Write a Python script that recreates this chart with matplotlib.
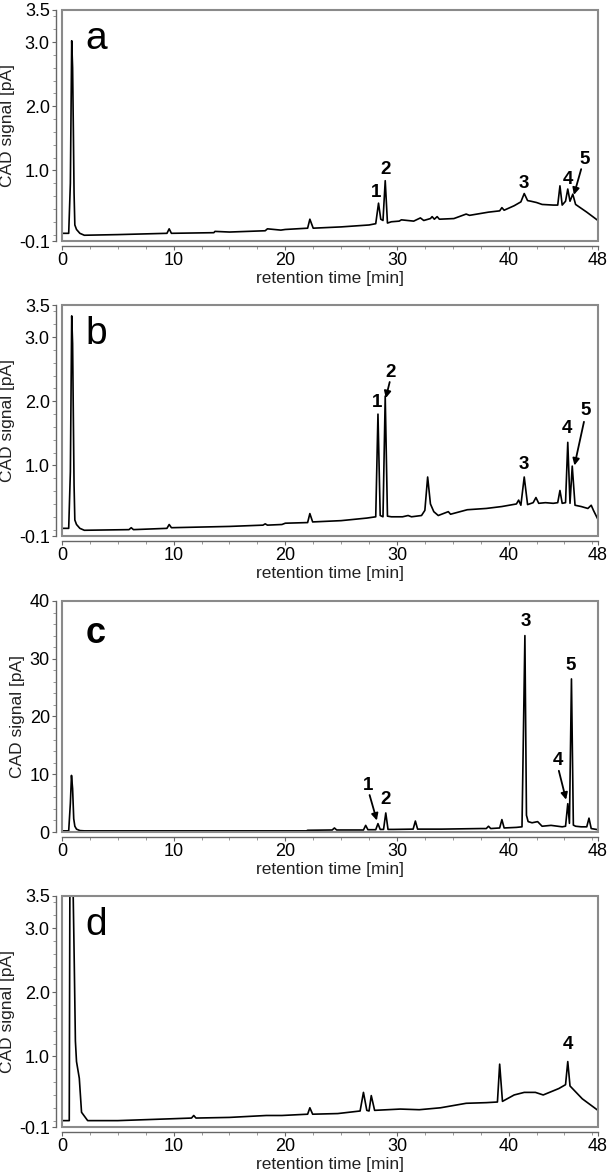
import matplotlib
matplotlib.use("Agg")
import matplotlib.pyplot as plt
from matplotlib.patches import Rectangle
from matplotlib.ticker import MultipleLocator

plt.rcParams["font.family"] = ["Liberation Sans", "DejaVu Sans"]

# chromatogram a
t_a = [0.0, 0.6, 0.75, 0.87, 0.95, 1.02, 1.08, 1.15, 1.3, 1.6, 2.0, 5.0, 9.4, 9.6, 9.8,
       13.6, 13.7, 15.0, 18.2, 18.4, 19.6, 20.0, 22.0, 22.2, 22.5, 25.0, 27.5, 28.1, 28.35,
       28.55, 28.75, 28.95, 29.15, 29.5, 30.2, 30.4, 31.5, 32.1, 32.4, 33.0, 33.15, 33.35,
       33.6, 33.8, 35.1, 36.2, 36.5, 38.2, 39.2, 39.4, 39.6, 40.5, 40.8, 41.1, 41.4, 41.7,
       42.0, 42.5, 43.0, 44.0, 44.4, 44.6, 44.8, 45.1, 45.3, 45.5, 45.75, 46.0, 47.0, 48.0]
s_a = [0.02, 0.02, 0.8, 3.02, 2.6, 1.6, 0.65, 0.15, 0.08, 0.02, -0.01, 0.0, 0.02, 0.09, 0.02,
       0.03, 0.05, 0.04, 0.06, 0.09, 0.07, 0.08, 0.1, 0.24, 0.1, 0.12, 0.15, 0.17, 0.49,
       0.24, 0.22, 0.84, 0.18, 0.2, 0.21, 0.23, 0.21, 0.26, 0.22, 0.25, 0.28, 0.24,
       0.28, 0.24, 0.25, 0.32, 0.3, 0.35, 0.37, 0.42, 0.38, 0.45, 0.48, 0.51, 0.64, 0.53,
       0.52, 0.5, 0.47, 0.46, 0.46, 0.76, 0.46, 0.52, 0.71, 0.52, 0.63, 0.47, 0.35, 0.22]

# chromatogram b
t_b = [0.0, 0.6, 0.75, 0.87, 0.95, 1.02, 1.08, 1.15, 1.3, 1.6, 2.0, 6.0, 6.2, 6.4, 9.4, 9.6,
       9.8, 15.0, 18.0, 18.2, 18.4, 19.7, 20.0, 22.0, 22.2, 22.45, 25.0, 27.3, 28.1, 28.3,
       28.5, 28.75, 28.95, 29.15, 29.5, 30.5, 31.0, 31.3, 32.2, 32.5, 32.75, 33.0, 33.3, 33.7,
       34.6, 34.8, 36.3, 38.0, 39.4, 40.7, 40.9, 41.1, 41.4, 41.7, 42.2, 42.45, 42.7, 43.3,
       44.0, 44.4, 44.6, 44.8, 45.1, 45.3, 45.5, 45.7, 45.95, 46.5, 47.1, 47.4, 47.6, 48.0]
s_b = [0.02, 0.02, 0.9, 3.33, 2.9, 1.7, 0.7, 0.15, 0.08, 0.02, -0.01, 0.0, 0.03, 0.0, 0.02, 0.08,
       0.03, 0.05, 0.07, 0.09, 0.07, 0.08, 0.1, 0.11, 0.25, 0.12, 0.14, 0.18, 0.2, 1.8,
       0.22, 0.2, 2.08, 0.21, 0.2, 0.2, 0.22, 0.2, 0.22, 0.3, 0.82, 0.4, 0.28, 0.22,
       0.28, 0.24, 0.31, 0.33, 0.36, 0.4, 0.46, 0.38, 0.82, 0.39, 0.42, 0.5, 0.41, 0.42,
       0.41, 0.42, 0.61, 0.41, 0.42, 1.36, 0.41, 0.99, 0.38, 0.36, 0.33, 0.38, 0.3, 0.16]

# chromatogram c
t_c = [0.0, 0.6, 0.75, 0.85, 0.95, 1.05, 1.15, 1.3, 1.6, 2.0, 10.0, 21.9, 22.0, 24.2, 24.4,
       24.6, 27.0, 27.2, 27.4, 28.1, 28.3, 28.5, 28.8, 29.0, 29.2, 29.7, 31.45, 31.65, 31.85,
       34.0, 37.5, 38.0, 38.2, 38.4, 39.2, 39.4, 39.6, 40.7, 41.2, 41.46, 41.6, 41.75, 42.1,
       42.6, 43.0, 43.8, 44.8, 45.1, 45.3, 45.45, 45.63, 45.8, 46.0, 46.5, 47.0, 47.2, 47.4, 48.0]
s_c = [0.2, 0.2, 5.0, 9.8, 7.5, 2.3, 1.0, 0.5, 0.25, 0.2, 0.2, 0.2, 0.3, 0.35, 0.7,
       0.35, 0.35, 1.15, 0.4, 0.4, 1.45, 0.45, 0.45, 3.3, 0.45, 0.45, 0.5, 1.9, 0.5,
       0.5, 0.6, 0.6, 1.0, 0.6, 0.7, 2.15, 0.7, 0.8, 0.9, 34.0, 2.9, 1.8, 1.6,
       1.8, 1.0, 1.15, 0.9, 1.0, 4.9, 1.5, 26.5, 1.2, 1.0, 0.9, 0.9, 2.4, 0.6, 0.4]

# chromatogram d
t_d = [0.0, 0.65, 0.72, 0.9, 1.05, 1.1, 1.2, 1.3, 1.55, 1.75, 2.3, 5.0, 10.0, 11.6, 11.8,
       12.0, 15.0, 18.3, 19.7, 22.0, 22.2, 22.45, 24.7, 26.7, 27.0, 27.3, 27.5, 27.7, 28.0,
       30.3, 32.0, 33.9, 36.2, 38.0, 39.0, 39.2, 39.45, 40.5, 41.4, 42.4, 43.1, 44.5, 45.1,
       45.3, 45.5, 46.6, 47.3, 48.0]
s_d = [0.0, 0.0, 4.5, 4.6, 3.0, 2.44, 1.24, 0.92, 0.66, 0.13, 0.0, 0.0, 0.03, 0.04, 0.08,
       0.04, 0.05, 0.08, 0.08, 0.1, 0.2, 0.1, 0.11, 0.15, 0.44, 0.16, 0.15, 0.39, 0.16,
       0.18, 0.17, 0.2, 0.27, 0.28, 0.29, 0.88, 0.3, 0.4, 0.44, 0.44, 0.4, 0.5, 0.56,
       0.92, 0.54, 0.34, 0.25, 0.16]

panel_letters = ["a", "b", "c", "d"]
x_ticks = [0, 10, 20, 30, 40, 48]
y_ticks_small = [-0.1, 1.0, 2.0, 3.0, 3.5]
y_labels_small = ["-0.1", "1.0", "2.0", "3.0", "3.5"]
y_ticks_big = [0, 10, 20, 30, 40]

# peak labels: (text, x, y, arrow_start, arrow_end)
labels_a = [("1", 28.1, 0.66, None, None), ("2", 29.0, 1.02, None, None),
            ("3", 41.4, 0.8, None, None), ("4", 45.3, 0.86, None, None),
            ("5", 46.8, 1.17, (46.5, 1.02), (45.85, 0.62))]
labels_b = [("1", 28.2, 1.98, None, None), ("2", 29.4, 2.45, (29.35, 2.3), (29.0, 2.05)),
            ("3", 41.4, 1.02, None, None), ("4", 45.25, 1.58, None, None),
            ("5", 46.9, 1.86, (46.75, 1.68), (45.9, 1.0))]
labels_c = [("1", 27.4, 8.1, (27.55, 6.4), (28.2, 2.0)), ("2", 29.0, 5.6, None, None),
            ("3", 41.5, 36.4, None, None), ("4", 44.4, 12.4, (44.5, 10.6), (45.15, 5.6)),
            ("5", 45.6, 28.8, None, None)]
labels_d = [("4", 45.3, 1.18, None, None)]

fig = plt.figure(figsize=(6.09, 11.74), dpi=100)
left, width = 0.1018, 0.880
bottoms = [0.7947, 0.5434, 0.2913, 0.0400]
height = 0.1968

series = [(t_a, s_a, labels_a), (t_b, s_b, labels_b), (t_c, s_c, labels_c), (t_d, s_d, labels_d)]

for i, (t, s, labs) in enumerate(series):
    ax = fig.add_axes([left, bottoms[i], width, height])
    ax.plot(t, s, color="black", lw=1.2)
    ax.set_xlim(0, 48)
    if i == 2:
        ax.set_ylim(0, 40)
        ax.set_yticks(y_ticks_big)
        ax.yaxis.set_minor_locator(MultipleLocator(2))
        ax.spines["left"].set_bounds(0, 40)
    else:
        ax.set_ylim(-0.1, 3.5)
        ax.set_yticks(y_ticks_small)
        ax.set_yticklabels(y_labels_small)
        ax.yaxis.set_minor_locator(MultipleLocator(0.2))
        ax.spines["left"].set_bounds(-0.1, 3.5)
    ax.set_xticks(x_ticks)
    ax.xaxis.set_minor_locator(MultipleLocator(2.5))
    ax.spines["bottom"].set_bounds(0, 48)
    for side in ["top", "right"]:
        ax.spines[side].set_visible(False)
    ax.spines["left"].set_position(("outward", 4.3))
    ax.spines["bottom"].set_position(("outward", 3.6))
    for side in ["left", "bottom"]:
        ax.spines[side].set_color("#666666")
        ax.spines[side].set_linewidth(1.0)
    ax.add_patch(Rectangle((0, 0), 1, 1, transform=ax.transAxes, fill=False,
                           edgecolor="#8a8a8a", lw=1.5, clip_on=False, zorder=3))
    ax.tick_params(which="major", direction="out", length=3, width=0.8, color="#666666",
                   labelsize=13, pad=1.5)
    ax.tick_params(which="minor", direction="out", length=2, width=0.6, color="#888888")
    ax.set_ylabel("CAD signal [pA]", fontsize=12.5, color="#222222", labelpad=3)
    ax.set_xlabel("retention time [min]", fontsize=12.5, color="#222222", labelpad=1,
                  family=["Liberation Sans Narrow", "Liberation Sans"])

    if i == 2:
        ax.text(3.0, 34.3, panel_letters[i], fontsize=26, fontweight="bold",
                ha="center", va="center")
    else:
        ax.text(3.1, 3.05, panel_letters[i], fontsize=28, ha="center", va="center")

    for txt, x, y, a0, a1 in labs:
        ax.text(x, y, txt, fontsize=13.5, fontweight="bold", ha="center", va="center")
        if a0 is not None:
            ax.annotate("", xy=a1, xytext=a0,
                        arrowprops=dict(arrowstyle="-|>", color="black", lw=1.3,
                                        mutation_scale=10, shrinkA=0, shrinkB=0))

fig.savefig("out.png", dpi=100)
